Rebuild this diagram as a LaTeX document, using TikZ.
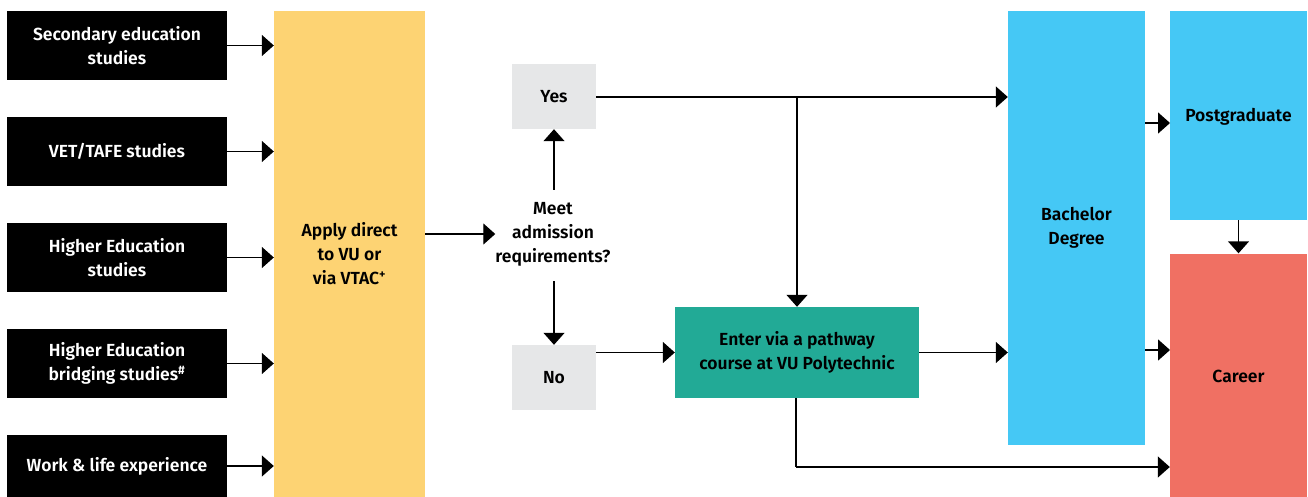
\documentclass[tikz,border=0pt]{standalone}
\usepackage{fontspec}
\setmainfont{Fira Sans}[BoldFont={Fira Sans SemiBold}]
\usetikzlibrary{arrows.meta}
\definecolor{yel}{HTML}{FDD373}
\definecolor{teal2}{HTML}{22AA96}
\definecolor{sky}{HTML}{45C8F5}
\definecolor{coral}{HTML}{F07063}
\definecolor{lgray}{HTML}{E6E7E8}
\begin{document}
\begin{tikzpicture}[x=1pt,y=-1pt,
  box/.style={inner sep=0pt, align=center, font=\fontsize{17.5}{24}\selectfont\bfseries},
  src/.style={box, fill=black, text=white, minimum width=220pt, minimum height=69pt},
  arr/.style={line width=1.4pt, -{Triangle[length=12pt,width=21pt]}},
  ln/.style={line width=1.4pt}]
\useasboundingbox (0,0) rectangle (1308,497);
% source boxes
\node[src] (s1) at (117,45.5) {Secondary education\\studies};
\node[src] (s2) at (117,151.5) {VET/TAFE studies};
\node[src] (s3) at (117,257.5) {Higher Education\\studies};
\node[src] (s4) at (117,363.5) {Higher Education\\bridging studies\textsuperscript{\#}};
\node[box, fill=black, text=white, minimum width=220pt, minimum height=62pt] (s5) at (117,466) {Work \& life experience};
% apply
\node[box, fill=yel, minimum width=151pt, minimum height=486pt] (ap) at (349.5,254) {Apply direct\\to VU or\\via VTAC\textsuperscript{+}};
\foreach \i in {1,...,5}{\draw[arr] (s\i.east) -- (s\i.east -| ap.west);}
% decision
\node[box] (meet) at (553,234) {Meet\\admission\\requirements?};
\draw[arr] (ap.east |- meet.west) -- (meet.west);
\node[box, fill=lgray, minimum width=84pt, minimum height=65pt] (yes) at (554,96.5) {Yes};
\node[box, fill=lgray, minimum width=84pt, minimum height=65pt] (no) at (554,377.5) {No};
\coordinate (mt) at (554,190);
\coordinate (mb) at (554,281);
\draw[arr] (mt) -- (yes.south);
\draw[arr] (mb) -- (no.north);
% teal
\node[box, fill=teal2, minimum width=244pt, minimum height=91pt] (pw) at (797,352.5) {Enter via a pathway\\course at VU Polytechnic};
% right boxes
\node[box, fill=sky, minimum width=137pt, minimum height=434pt] (ba) at (1076.5,228) {Bachelor\\Degree};
\node[box, fill=sky, minimum width=137pt, minimum height=209pt] (pg) at (1238.5,115.5) {};
\node[box] at (1238.5,117) {Postgraduate};
\node[box, fill=coral, minimum width=137pt, minimum height=245pt] (ca) at (1238.5,376) {Career};
% connectors
\coordinate (yb) at (797,97);
\draw[arr] (yes.east |- yb) -- (yb -| ba.west);
\draw[arr] (yb) -- (pw.north);
\draw[arr] (no.east |- pw.west) -- (pw.west);
\draw[arr] (pw.east) -- (pw.east -| ba.west);
\coordinate (pb) at (796,467);
\draw[ln] (pw.south -| pb) -- (pb);
\draw[arr] (pb) -- (pb -| ca.west);
\draw[arr] (1145,123) -- (1170,123);
\draw[arr] (1145,350) -- (1170,350);
\draw[arr] (pg.south) -- (ca.north);
\end{tikzpicture}
\end{document}
